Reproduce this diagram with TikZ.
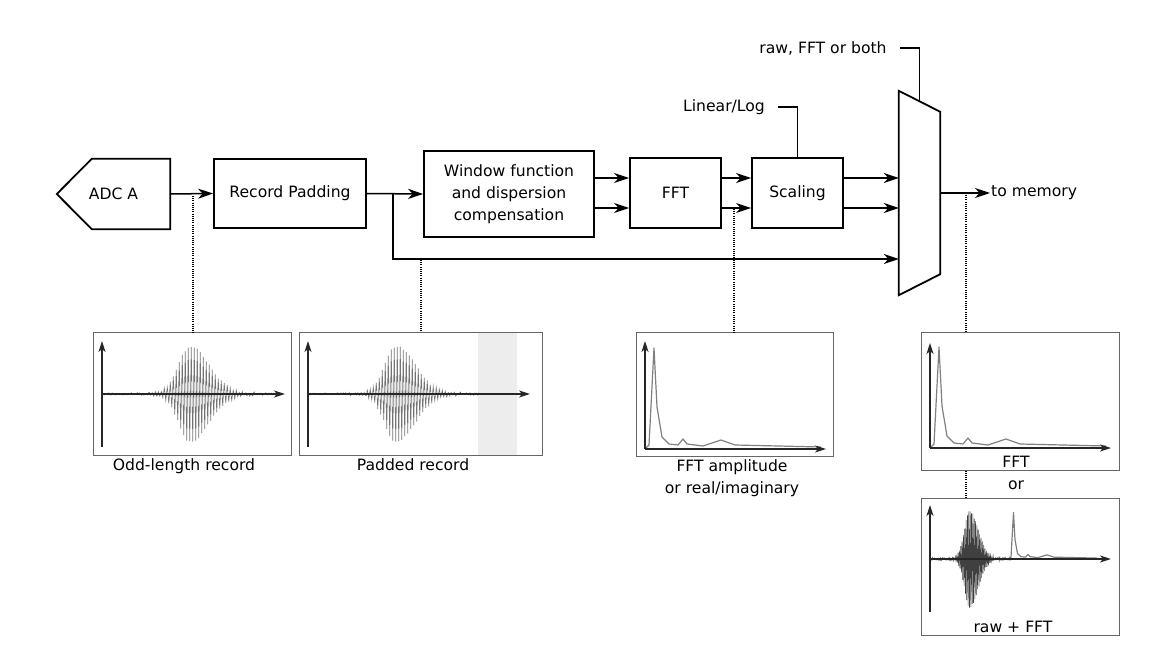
\documentclass[tikz,border=0pt]{standalone}
\usepackage{fontspec}
\setmainfont{DejaVu Sans}
\usetikzlibrary{arrows.meta,calc,positioning}

\tikzset{
  blk/.style={draw, line width=1.8pt, inner sep=0pt, align=center},
  wire/.style={line width=1.5pt},
  arr/.style={wire, -{Stealth[length=15pt, width=10pt, inset=4.5pt]}},
  plotbox/.style={draw=black!60, line width=1pt, inner sep=0pt},
  axis/.style={black!85, line width=1.2pt, -{Stealth[length=11pt, width=7pt, inset=3pt]}},
  sig/.style={black!55, line width=0.6pt},
  spec/.style={black!50, line width=1.2pt, line join=round},
  probe/.style={line width=1.1pt, dash pattern=on 1.1pt off 1.1pt}
}

\begin{document}
\begin{tikzpicture}[x=1pt, y=-1pt, font=\fontsize{15.6}{22}\selectfont,
  declare function={
    gs(\t,\c,\s)=exp(-((\t-\c)/\s)*((\t-\c)/\s));
    pk(\t)=(\t<88) ? 45*gs(\t,88,16)+3*gs(\t,100,45) : 45*gs(\t,88,26)+3*gs(\t,100,45);
  }]
  \useasboundingbox (0,0) rectangle (1152,652);
  \pgfmathsetseed{4711}
  \def\showPacket#1#2{
    \draw[sig] plot[domain=0:#1, samples=#2] (\x, {pk(\x)*sin(120*mod(\x,3)) + 1.2*rand});
  }
  \def\showSpectrum{
    \draw[spec] (1,-1) -- (4,-4) -- (9,-101) -- (12,-42) -- (17,-12) -- (24,-5) -- (33,-4)
      -- (38,-10) -- (42,-5) -- (58,-3) -- (76,-9) -- (90,-4) -- (176,-2);
  }

  % Processing chain
  \node (adc) [minimum width=113pt, minimum height=70pt, inner sep=0pt] at (113.5,194) {ADC A};
  \draw[line width=1.8pt] (adc.west) -- ($(adc.north west)+(35,0)$) -- (adc.north east)
    -- (adc.south east) -- ($(adc.south west)+(35,0)$) -- cycle;
  \node (rp) [blk, minimum width=152pt, minimum height=69pt] at (290,193.5) {Record Padding};
  \node (win) [blk, minimum width=170pt, minimum height=86pt] at (509,194)
    {Window function\\and dispersion\\compensation};
  \node (fft) [blk, minimum width=91pt, minimum height=70pt] at (675.5,193) {FFT};
  \node (scl) [blk, minimum width=91pt, minimum height=70pt] at (797.5,193) {Scaling};
  \node (mux) [minimum width=41pt, minimum height=204pt, inner sep=0pt] at (919.5,193) {};
  \draw[line width=1.8pt] (mux.north west) -- ($(mux.north east)+(0,21)$)
    -- ($(mux.south east)+(0,-21)$) -- (mux.south west) -- cycle;
  \node (lin) at (724,107) {Linear/Log};
  \node (sel) at (823,48) {raw, FFT or both};
  \node (mem) [anchor=west, inner xsep=1pt] at (990,193) {to memory};

  % Draw connections
  \draw[arr] (adc.east) -- (rp.west);
  \draw[arr] (rp.east) -- (win.west);
  \coordinate (br) at (393,194);
  \draw[arr] (br) |- (mux.west |- 0,259);
  \foreach \yy in {178,208} {
    \draw[arr] (win.east |- 0,\yy) -- (fft.west |- 0,\yy);
    \draw[arr] (fft.east |- 0,\yy) -- (scl.west |- 0,\yy);
    \draw[arr] (scl.east |- 0,\yy) -- (mux.west |- 0,\yy);
  }
  \draw[wire] ([xshift=10pt]lin.east) -| (scl.north);
  \coordinate (muxtop) at ($(mux.north west)!0.5!(mux.north east)+(0,10.5)$);
  \draw[wire] ([xshift=10pt]sel.east) -| (muxtop);
  \draw[arr] (mux.east) -- (mem.west);

  % Plot frames
  \fill[black!7] (478,333.5) rectangle (517,454.5);
  \node (p1) [plotbox, minimum width=198pt, minimum height=122pt] at (192,394) {};
  \node (p2) [plotbox, minimum width=243pt, minimum height=122pt] at (420.5,394) {};
  \node (p3) [plotbox, minimum width=197pt, minimum height=123pt] at (734.5,394.5) {};
  \node (p4) [plotbox, minimum width=198pt, minimum height=137pt] at (1020,401.5) {};
  \node (p5) [plotbox, minimum width=198pt, minimum height=137pt] at (1020,566.5) {};
  \node (l1) [below=0pt of p1, xshift=-8pt] {Odd-length record};
  \node (l2) [below=0pt of p2, xshift=-7.5pt] {Padded record};
  \node (l3) [below=0pt of p3, xshift=-2.5pt, align=center] {FFT amplitude\\or real/imaginary};
  \node (l4) [above=0pt of p4.south, xshift=-4pt, inner sep=3pt] {FFT};
  \node (or) at (1016,485) {or};
  \node (l5) [above=0pt of p5.south, xshift=-7pt, inner sep=3pt] {raw + FFT};

  % Probes
  \coordinate (t1) at (193,196);
  \coordinate (t2) at (421,260);
  \coordinate (t3) at (734,209);
  \coordinate (t4) at (966,195);
  \foreach \i in {1,...,4} {
    \draw[probe] (t\i) -- (t\i |- p\i.north);
  }
  \draw[probe] (p4.south -| t4) -- (p5.north -| t4);

  % Plot contents
  \begin{scope}[shift={(102,394)}]
    \showPacket{180}{241}
    \draw[axis] (0,53) -- (0,-53);
    \draw[axis] (0,0) -- (183,0);
  \end{scope}
  \begin{scope}[shift={(308,394)}]
    \showPacket{171}{229}
    \draw[axis] (0,53) -- (0,-53);
    \draw[axis] (0,0) -- (222,0);
  \end{scope}
  \begin{scope}[shift={(645,449)}]
    \showSpectrum
    \draw[axis] (0,0) -- (0,-108);
    \draw[axis] (0,0) -- (181,0);
  \end{scope}
  \begin{scope}[shift={(930,448)}]
    \showSpectrum
    \draw[axis] (0,0) -- (0,-105);
    \draw[axis] (0,0) -- (181,0);
  \end{scope}
  \begin{scope}[shift={(930,559)}]
    \begin{scope}[xscale=0.45, sig/.append style={black!75}]
      \showPacket{180}{241}
    \end{scope}
    \begin{scope}[shift={(79,0)}, xscale=0.5, yscale=0.46]
      \showSpectrum
    \end{scope}
    \draw[axis] (0,53) -- (0,-54);
    \draw[axis] (0,0) -- (181,0);
  \end{scope}
\end{tikzpicture}
\end{document}
